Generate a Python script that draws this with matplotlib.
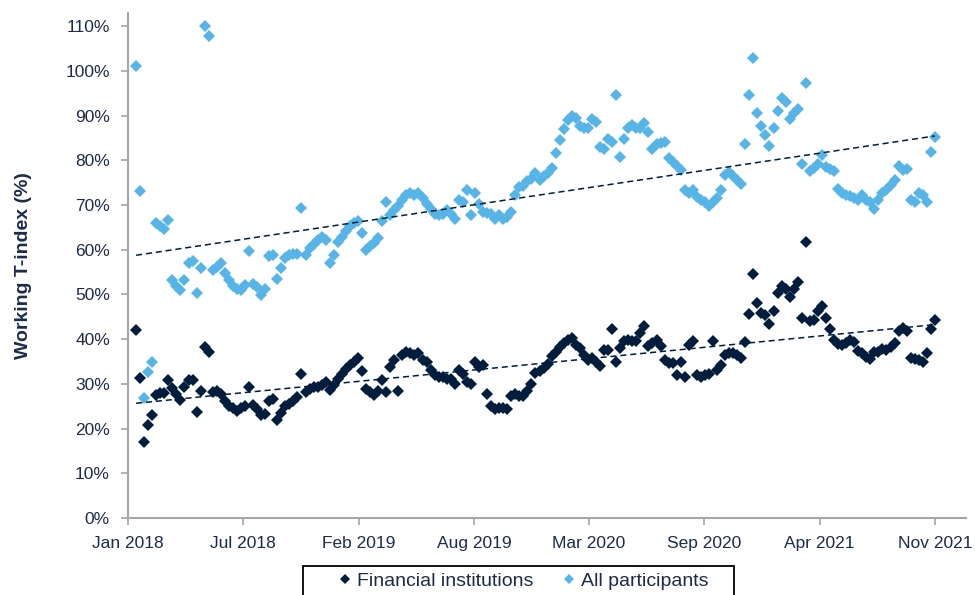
import numpy as np
import pandas as pd
import matplotlib
matplotlib.use("Agg")
import matplotlib.pyplot as plt
import matplotlib.dates as mdates
from matplotlib.patches import Rectangle

# weekly readings, starting mid-January 2018
start_date = "2018-01-15"

financial = [
    42.0, 31.4, 17.1, 20.9, 23.0, 27.6, 27.9, 27.9, 30.8, 29.1, 27.7, 26.3, 29.2, 30.8, 30.8, 23.7,
    28.3, 38.2, 37.2, 28.1, 28.3, 27.7, 26.2, 25.0, 24.7, 23.9, 24.7, 25.0, 29.4, 25.3, 24.3, 23.1,
    23.3, 26.2, 26.6, 22.0, 23.5, 25.0, 25.4, 26.2, 27.1, 32.3, 28.1, 28.8, 29.4, 29.2, 29.8, 30.4,
    28.6, 29.8, 31.1, 32.3, 33.4, 34.2, 34.9, 35.7, 32.8, 28.8, 28.1, 27.6, 28.5, 30.8, 28.1,
    33.8, 35.3, 28.5, 36.5, 37.2, 36.8, 36.5, 36.8, 35.3, 34.9, 33.0, 31.9, 31.5, 31.5, 31.1, 31.1,
    30.0, 33.0, 32.3, 30.4, 30.0, 34.9, 33.8, 34.2, 27.7, 25.0, 24.3, 24.7, 24.7, 24.3, 27.3, 27.7,
    27.3, 27.3,
    28.5, 30.0, 32.4, 32.9, 33.6, 34.5, 36.2, 37.2, 38.2, 39.1, 39.9, 40.3,
    38.7, 38.0, 36.5, 35.3, 35.7, 34.9, 33.9, 37.6, 37.6, 42.2, 34.9, 38.0, 39.5, 39.9, 39.5, 39.5,
    41.4, 42.9, 38.4, 39.1, 39.9, 38.5, 35.3, 34.7, 34.6, 31.9, 34.9, 31.6, 38.8, 39.5, 31.9, 31.5,
    31.9, 32.3, 39.7, 33.2, 34.2, 36.5, 36.9, 36.8, 36.5, 35.7, 39.3, 45.6, 54.5, 48.2, 45.9, 45.4,
    43.5, 46.3, 50.3, 52.0, 51.3, 49.4, 51.3, 52.7, 44.7, 61.7, 44.1, 44.4, 46.3, 47.5, 44.8, 42.3,
    39.9, 39.0, 38.7, 39.1, 39.9, 39.3, 37.4, 36.8, 36.0, 35.6, 37.1, 37.2, 37.7, 37.6, 38.3, 39.2,
    41.9, 42.4, 41.8, 35.7, 35.5, 35.3, 34.9, 36.9, 42.3, 44.4,
]

all_participants = [
    101.1, 73.1, 26.9, 32.6, 35.0, 66.0, 65.4, 64.6, 66.7, 53.2, 52.0, 51.0, 53.3, 57.0, 57.6, 50.3,
    55.9, 110.1, 107.8, 55.5, 56.2, 57.0, 54.7, 53.2, 52.0, 51.3, 51.1, 52.2, 59.7, 52.4, 51.7, 49.8,
    51.3, 58.5, 58.9, 53.4, 55.9, 58.1, 58.9, 59.1, 59.1, 69.3, 58.9, 60.4, 61.2, 62.3, 62.9, 62.1,
    57.0, 58.9, 61.7, 62.9, 64.2, 65.4, 66.1, 66.5, 63.8,
    60.0, 60.8, 61.6, 62.7, 66.5, 70.8, 67.7, 68.8, 69.9, 71.1, 72.2, 72.8, 72.2, 72.8, 71.5, 70.3,
    69.2, 68.0, 67.7, 68.0, 68.8, 68.0, 66.9, 71.1, 70.7, 73.4, 67.7, 72.8, 70.3, 68.4, 68.3, 68.0,
    66.9, 67.7, 66.9, 67.3, 68.4, 72.2, 74.1, 74.3, 75.3, 75.8, 77.2, 75.5, 76.4, 77.2, 78.3, 81.7,
    84.6, 87.1, 89.0, 90.0, 89.5, 87.8,
    87.2, 87.2, 89.2, 88.6, 82.9, 82.6, 84.8, 84.2, 94.7, 80.7, 84.8, 87.2, 88.0, 87.2, 87.2, 88.4,
    86.3, 82.5, 83.6, 83.9, 84.0, 80.6, 79.6, 78.7, 77.9, 73.4, 72.6, 73.4, 71.8, 71.1, 70.7, 69.7,
    70.7, 71.5, 73.4,
    76.8, 77.3, 76.4, 75.7, 74.7, 83.6, 94.7, 102.9, 90.5, 87.8, 85.6, 83.2, 87.3, 91.1, 94.0, 93.0,
    89.3, 90.5, 91.6, 79.1, 97.3, 77.6, 78.3, 79.1, 81.1, 78.5, 78.1, 77.6, 73.7, 72.8, 72.2, 72.0,
    71.5, 71.1, 72.2, 71.2, 70.7, 69.2, 71.1, 72.6, 73.4, 74.5, 75.7, 78.8, 77.9, 78.0, 71.2, 70.7,
    72.6, 72.2, 70.7, 81.9, 85.2,
]

tick_dates = ["2018-01-01", "2018-07-20", "2019-02-05", "2019-08-24",
              "2020-03-11", "2020-09-27", "2021-04-15", "2021-11-01"]
tick_labels = ["Jan 2018", "Jul 2018", "Feb 2019", "Aug 2019",
               "Mar 2020", "Sep 2020", "Apr 2021", "Nov 2021"]
y_ticks = list(range(0, 111, 10))

plt.rcParams["font.family"] = ["Liberation Sans", "DejaVu Sans"]

navy = "#001D3D"
light = "#56B5E6"
text_col = "#1C2B4A"
axis_col = "#A6A6A6"

dates = pd.date_range(start_date, periods=len(all_participants), freq="7D")
fin_dates = dates[:len(financial)]
xnum = mdates.date2num(dates)
fin_xnum = mdates.date2num(fin_dates)

fig = plt.figure(figsize=(9.75, 5.95), dpi=100)
ax = fig.add_axes([0.1313, 0.1294, 0.8595, 0.849])

ax.plot(fin_xnum, financial, linestyle="none", marker="D", markersize=6.5,
        color=navy, markeredgewidth=0, label="Financial institutions", zorder=3)
ax.plot(xnum, all_participants, linestyle="none", marker="D", markersize=6.5,
        color=light, markeredgewidth=0, label="All participants", zorder=3)

# linear trend lines
for xs, ys in [(fin_xnum, financial), (xnum, all_participants)]:
    k, b = np.polyfit(xs, ys, 1)
    ends = np.array([xs[0], xs[-1]])
    ax.plot(ends, k * ends + b, color=navy, linestyle=(0, (4, 2.5)), linewidth=1.1, zorder=4)

ax.set_xlim(mdates.date2num(pd.Timestamp("2018-01-01")),
            mdates.date2num(pd.Timestamp("2021-12-25")))
ax.set_ylim(0, 113)
ax.set_xticks(mdates.date2num(pd.to_datetime(tick_dates)))
ax.set_xticklabels(tick_labels)
ax.set_yticks(y_ticks)
ax.set_yticklabels([f"{v}%" for v in y_ticks])

for side in ["top", "right"]:
    ax.spines[side].set_visible(False)
for side in ["left", "bottom"]:
    ax.spines[side].set_color(axis_col)
    ax.spines[side].set_linewidth(1.5)
ax.tick_params(axis="both", direction="out", length=5, width=1.2, color=axis_col,
               labelcolor=text_col, labelsize=12.5)
ax.tick_params(axis="x", pad=8)
ax.tick_params(axis="y", pad=8)
ax.set_ylabel("Working T-index (%)", fontsize=14, fontweight="bold", color=text_col, labelpad=24)

# legend box runs off the bottom edge, as in the original
fig.patches.append(Rectangle((303 / 975, -0.05), 431 / 975, 0.05 + 29 / 595,
                             transform=fig.transFigure, fill=False,
                             edgecolor="black", linewidth=1.3))
leg = fig.legend(loc="center", bbox_to_anchor=(0.535, 0.024), ncol=2, fontsize=14,
                 frameon=False, handletextpad=0.1, columnspacing=1.35,
                 handlelength=1.0, markerscale=0.85, borderpad=0.2)
for t in leg.get_texts():
    t.set_color(text_col)

fig.savefig("out.png", dpi=100)
